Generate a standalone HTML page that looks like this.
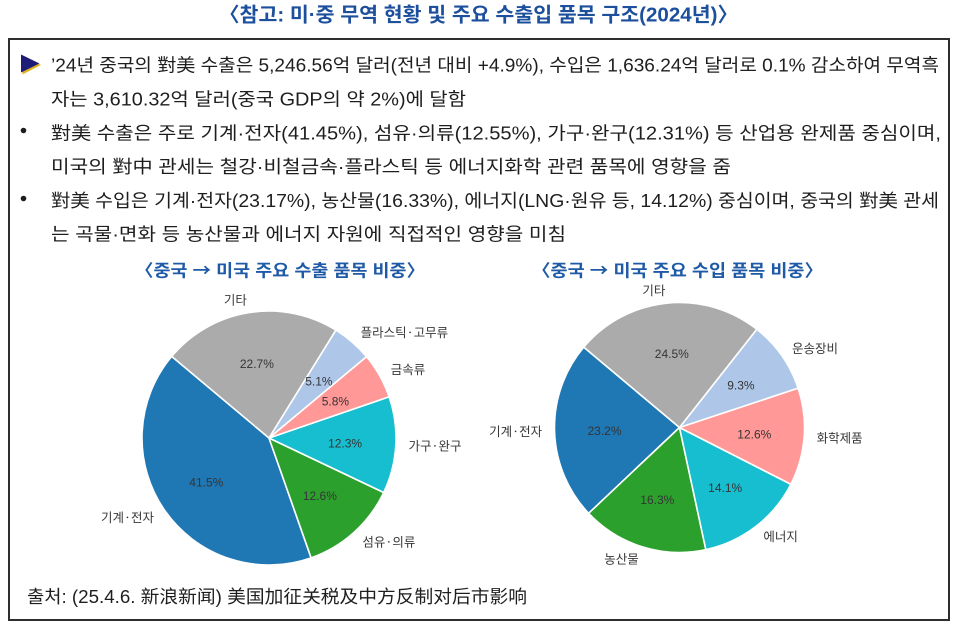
<!DOCTYPE html>
<html>
<head>
<meta charset="utf-8">
<style>
  html, body { margin: 0; padding: 0; background: #ffffff; }
  svg { display: block; }
  .body { font-family: "Liberation Sans", "Noto Sans CJK KR", sans-serif; font-size: 18px; fill: #1e1e1e; }
  .title { font-family: "Liberation Sans", "Noto Sans CJK KR", sans-serif; font-size: 20px; font-weight: bold; fill: #1c4f9c; }
  .sub { font-family: "Liberation Sans", "Noto Sans CJK KR", sans-serif; font-size: 17px; font-weight: bold; fill: #1f5aa6; }
  .arr { font-family: "Noto Sans CJK KR", sans-serif; }
  .lab { font-family: "Noto Sans CJK KR", "Liberation Sans", sans-serif; font-size: 12.5px; fill: #383838; }
  .pct { font-family: "Liberation Sans", "DejaVu Sans", sans-serif; font-size: 12px; fill: #353535; }
  .src { font-family: "Liberation Sans", "Noto Sans CJK KR", "Noto Sans CJK SC", sans-serif; font-size: 18px; fill: #1e1e1e; }
</style>
</head>
<body>
<svg width="956" height="626" viewBox="0 0 956 626" xmlns="http://www.w3.org/2000/svg">
  <rect x="0" y="0" width="956" height="626" fill="#ffffff"/>

  <!-- Title -->
  <text class="title" x="219" y="21.5" textLength="519" lengthAdjust="spacingAndGlyphs">〈참고: 미·중 무역 현황 및 주요 수출입 품목 구조(2024년)〉</text>

  <!-- Box -->
  <rect x="9" y="39" width="940" height="581" fill="none" stroke="#2e2e2e" stroke-width="2"/>

  <!-- Triangle marker -->
  <polygon points="22.5,56 22.5,74.5 41,65" fill="#e2b323"/>
  <polygon points="21,54.5 21,72.5 39.5,63.5" fill="#1d1d78"/>

  <!-- Bullets -->
  <circle cx="23.5" cy="130.5" r="2.8" fill="#1e1e1e"/>
  <circle cx="23.5" cy="198.5" r="2.8" fill="#1e1e1e"/>

  <!-- Body text -->
  <text class="body" x="51" y="71.3" textLength="888" lengthAdjust="spacingAndGlyphs">’24년 중국의 對美 수출은 5,246.56억 달러(전년 대비 +4.9%), 수입은 1,636.24억 달러로 0.1% 감소하여 무역흑</text>
  <text class="body" x="51" y="105.3" textLength="415" lengthAdjust="spacingAndGlyphs">자는 3,610.32억 달러(중국 GDP의 약 2%)에 달함</text>
  <text class="body" x="51" y="139.3" textLength="890" lengthAdjust="spacingAndGlyphs">對美 수출은 주로 기계·전자(41.45%), 섬유·의류(12.55%), 가구·완구(12.31%) 등 산업용 완제품 중심이며,</text>
  <text class="body" x="51" y="172.8" textLength="680" lengthAdjust="spacingAndGlyphs">미국의 對中 관세는 철강·비철금속·플라스틱 등 에너지화학 관련 품목에 영향을 줌</text>
  <text class="body" x="51" y="206.8" textLength="888" lengthAdjust="spacingAndGlyphs">對美 수입은 기계·전자(23.17%), 농산물(16.33%), 에너지(LNG·원유 등, 14.12%) 중심이며, 중국의 對美 관세</text>
  <text class="body" x="51" y="240.3" textLength="515" lengthAdjust="spacingAndGlyphs">는 곡물·면화 등 농산물과 에너지 자원에 직접적인 영향을 미침</text>

  <!-- Subtitles -->
  <text class="sub" x="135" y="276.5" textLength="290" lengthAdjust="spacingAndGlyphs">〈중국 <tspan class="arr">→</tspan> 미국 주요 수출 품목 비중〉</text>
  <text class="sub" x="532" y="276.5" textLength="291" lengthAdjust="spacingAndGlyphs">〈중국 <tspan class="arr">→</tspan> 미국 주요 수입 품목 비중〉</text>

  <!-- Left pie -->
  <g stroke="#ffffff" stroke-width="1.6" stroke-linejoin="round">
    <path d="M269,438 L171.71,356.37 A127,127 0 0 0 311.10,557.82 Z" fill="#1f77b4"/>
    <path d="M269,438 L311.10,557.82 A127,127 0 0 0 383.71,492.51 Z" fill="#2ca02c"/>
    <path d="M269,438 L383.71,492.51 A127,127 0 0 0 389.13,396.78 Z" fill="#17becf"/>
    <path d="M269,438 L389.13,396.78 A127,127 0 0 0 366.52,356.66 Z" fill="#ff9896"/>
    <path d="M269,438 L366.52,356.66 A127,127 0 0 0 335.88,330.04 Z" fill="#aec7e8"/>
    <path d="M269,438 L335.88,330.04 A127,127 0 0 0 171.71,356.37 Z" fill="#ababab"/>
  </g>
  <g text-anchor="middle">
    <text class="pct" x="206.3" y="486.5">41.5%</text>
    <text class="pct" x="319.9" y="499.8">12.6%</text>
    <text class="pct" x="345.1" y="447.4">12.3%</text>
    <text class="pct" x="335.4" y="405.7">5.8%</text>
    <text class="pct" x="318.9" y="385.5">5.1%</text>
    <text class="pct" x="256.9" y="367.9">22.7%</text>
  </g>
  <text class="lab" x="154" y="522" text-anchor="end">기계·전자</text>
  <text class="lab" x="362.4" y="546.4">섬유·의류</text>
  <text class="lab" x="408.5" y="450.4">가구·완구</text>
  <text class="lab" x="390.7" y="373.9">금속류</text>
  <text class="lab" x="360.6" y="337">플라스틱·고무류</text>
  <text class="lab" x="246.9" y="304.6" text-anchor="end">기타</text>

  <!-- Right pie -->
  <g stroke="#ffffff" stroke-width="1.6" stroke-linejoin="round">
    <path d="M679.5,427.5 L583.74,347.15 A125,125 0 0 0 588.62,513.33 Z" fill="#1f77b4"/>
    <path d="M679.5,427.5 L588.62,513.33 A125,125 0 0 0 705.85,549.69 Z" fill="#2ca02c"/>
    <path d="M679.5,427.5 L705.85,549.69 A125,125 0 0 0 790.88,484.26 Z" fill="#17becf"/>
    <path d="M679.5,427.5 L790.88,484.26 A125,125 0 0 0 798.15,388.17 Z" fill="#ff9896"/>
    <path d="M679.5,427.5 L798.15,388.17 A125,125 0 0 0 756.80,329.26 Z" fill="#aec7e8"/>
    <path d="M679.5,427.5 L756.80,329.26 A125,125 0 0 0 583.74,347.15 Z" fill="#ababab"/>
  </g>
  <g text-anchor="middle">
    <text class="pct" x="604.5" y="434.8">23.2%</text>
    <text class="pct" x="657.3" y="504.2">16.3%</text>
    <text class="pct" x="725.2" y="492">14.1%</text>
    <text class="pct" x="754.3" y="438.3">12.6%</text>
    <text class="pct" x="740.9" y="389.5">9.3%</text>
    <text class="pct" x="671.8" y="358">24.5%</text>
  </g>
  <text class="lab" x="542.1" y="436.1" text-anchor="end">기계·전자</text>
  <text class="lab" x="638.8" y="563.3" text-anchor="end">농산물</text>
  <text class="lab" x="763.4" y="541">에너지</text>
  <text class="lab" x="816.6" y="442.4">화학제품</text>
  <text class="lab" x="792" y="353">운송장비</text>
  <text class="lab" x="665.4" y="295.2" text-anchor="end">기타</text>

  <!-- Source -->
  <text class="src" x="27" y="603" textLength="500" lengthAdjust="spacingAndGlyphs">출처: (25.4.6.  <tspan style="font-family: 'Noto Sans CJK SC', sans-serif;">新浪新闻</tspan>) <tspan style="font-family: 'Noto Sans CJK SC', sans-serif;">美国加征关税及中方反制对后市影响</tspan></text>
</svg>
</body>
</html>
